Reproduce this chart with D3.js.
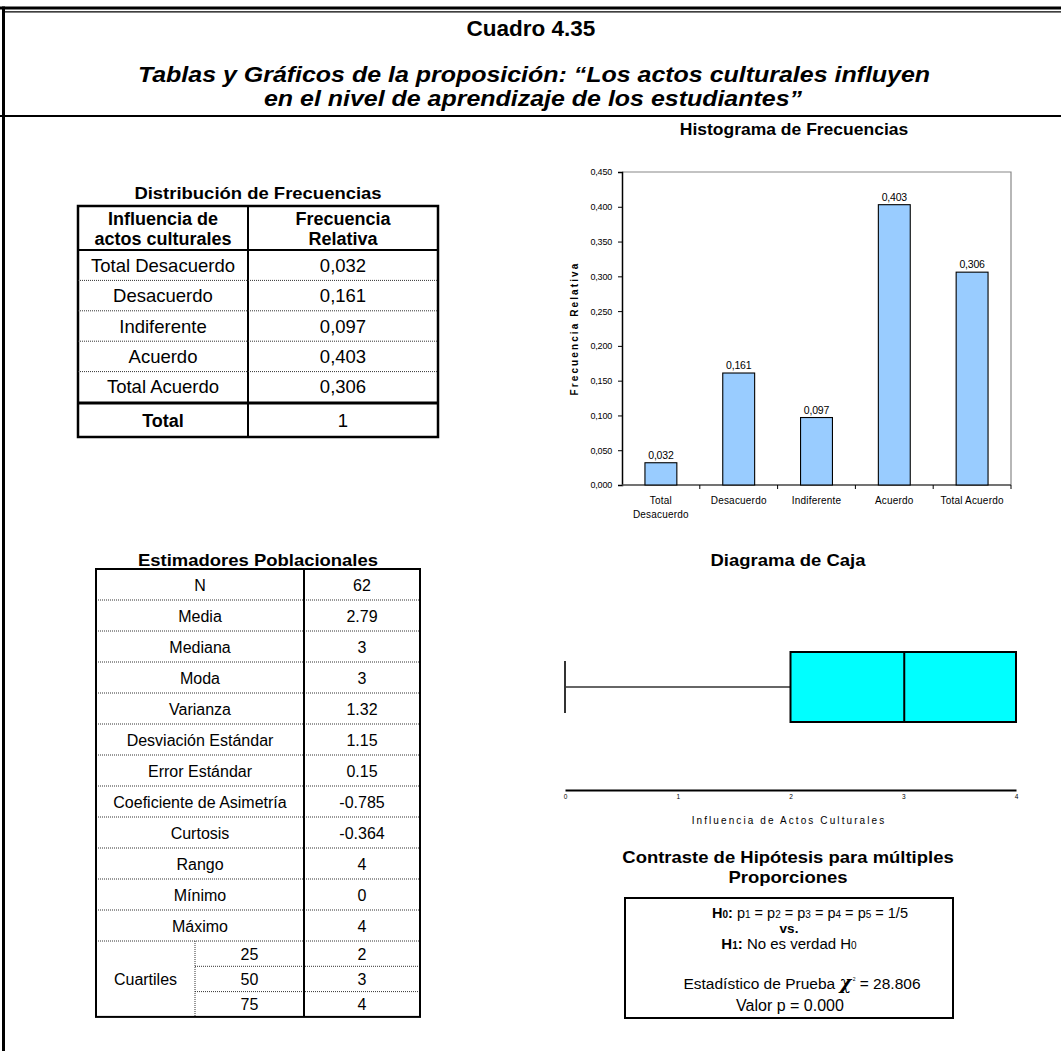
<!DOCTYPE html>
<html>
<head>
<meta charset="utf-8">
<script src="https://cdn.jsdelivr.net/npm/d3@7/dist/d3.min.js"></script>
<style>
  html, body { margin: 0; padding: 0; background: #fff; }
  svg { display: block; }
  text { font-family: "Liberation Sans", Arial, sans-serif; fill: #000; }
</style>
</head>
<body>
<svg id="sheet" width="1061" height="1051"></svg>
<script>
// ---- Data ----
const categories = ["Total Desacuerdo", "Desacuerdo", "Indiferente", "Acuerdo", "Total Acuerdo"];
const relFreq = [0.032, 0.161, 0.097, 0.403, 0.306];
const freqTotal = "1";
const yTickValues = [0, 0.05, 0.10, 0.15, 0.20, 0.25, 0.30, 0.35, 0.40, 0.45];

const estimatorNames = ["N", "Media", "Mediana", "Moda", "Varianza", "Desviación Estándar",
  "Error Estándar", "Coeficiente de Asimetría", "Curtosis", "Rango", "Mínimo", "Máximo"];
const estimatorValues = ["62", "2.79", "3", "3", "1.32", "1.15", "0.15", "-0.785", "-0.364", "4", "0", "4"];
const quartileLevels = ["25", "50", "75"];
const quartileValues = ["2", "3", "4"];

// five-number summary for the box plot
const boxMin = 0, boxQ1 = 2, boxMedian = 3, boxQ3 = 4, boxMax = 4;
const boxTicks = [0, 1, 2, 3, 4];

const commaFmt = v => d3.format(".3f")(v).replace(".", ",");

const svg = d3.select("#sheet");

// centred bold heading, slightly widened
function heading(parent, x, y, str, size, sx, italic) {
  return parent.append("text")
    .attr("transform", `translate(${x},${y}) scale(${sx},1)`)
    .attr("text-anchor", "middle").attr("font-size", size).attr("font-weight", "bold")
    .attr("font-style", italic ? "italic" : "normal").text(str);
}

// ---- Page frame and headings ----
svg.append("line").attr("x1", 0).attr("x2", 1061).attr("y1", 8).attr("y2", 8)
  .attr("stroke", "#000").attr("stroke-width", 3);
svg.append("line").attr("x1", 4).attr("x2", 1061).attr("y1", 11.8).attr("y2", 11.8)
  .attr("stroke", "#000").attr("stroke-width", 1.3);
svg.append("line").attr("x1", 0).attr("x2", 1061).attr("y1", 116).attr("y2", 116)
  .attr("stroke", "#000").attr("stroke-width", 2);
svg.append("line").attr("x1", 3.5).attr("x2", 3.5).attr("y1", 6.5).attr("y2", 1051)
  .attr("stroke", "#000").attr("stroke-width", 3);

svg.append("text").attr("x", 531).attr("y", 36).attr("text-anchor", "middle")
  .attr("font-size", 22.5).attr("font-weight", "bold").text("Cuadro 4.35");
heading(svg, 534, 82, "Tablas y Gráficos de la proposición: “Los actos culturales influyen", 22, 1.135, true);
heading(svg, 533, 106, "en el nivel de aprendizaje de los estudiantes”", 22, 1.135, true);

// ---- Frequency distribution table ----
const ft = { x0: 78, x1: 438, xm: 248, top: 206, head: 250, rowH: 30.4, totTop: 403, bottom: 437 };
const fg = svg.append("g");
heading(fg, 258, 199, "Distribución de Frecuencias", 16.5, 1.12);
fg.append("rect").attr("x", ft.x0).attr("y", ft.top).attr("width", ft.x1 - ft.x0)
  .attr("height", ft.bottom - ft.top).attr("fill", "none").attr("stroke", "#000").attr("stroke-width", 2.5);
fg.append("line").attr("x1", ft.xm).attr("x2", ft.xm).attr("y1", ft.top).attr("y2", ft.bottom)
  .attr("stroke", "#000").attr("stroke-width", 2);
fg.append("line").attr("x1", ft.x0).attr("x2", ft.x1).attr("y1", ft.head).attr("y2", ft.head)
  .attr("stroke", "#000").attr("stroke-width", 2);
fg.append("line").attr("x1", ft.x0).attr("x2", ft.x1).attr("y1", ft.totTop).attr("y2", ft.totTop)
  .attr("stroke", "#000").attr("stroke-width", 3);

const hdr = [["Influencia de", "actos culturales"], ["Frecuencia", "Relativa"]];
[(ft.x0 + ft.xm) / 2, (ft.xm + ft.x1) / 2].forEach((cx, i) => {
  const t = fg.append("text").attr("text-anchor", "middle").attr("font-size", 18).attr("font-weight", "bold");
  t.append("tspan").attr("x", cx).attr("y", 225).text(hdr[i][0]);
  t.append("tspan").attr("x", cx).attr("y", 245).text(hdr[i][1]);
});

categories.forEach((c, i) => {
  const y0 = ft.head + i * ft.rowH;
  if (i > 0) {
    fg.append("line").attr("x1", ft.x0).attr("x2", ft.x1).attr("y1", y0).attr("y2", y0)
      .attr("stroke", "#333").attr("stroke-width", 1).attr("stroke-dasharray", "1,1");
  }
  fg.append("text").attr("x", (ft.x0 + ft.xm) / 2).attr("y", y0 + ft.rowH / 2 + 6.5)
    .attr("text-anchor", "middle").attr("font-size", 18.5).text(c);
  fg.append("text").attr("x", (ft.xm + ft.x1) / 2).attr("y", y0 + ft.rowH / 2 + 6.5)
    .attr("text-anchor", "middle").attr("font-size", 18.5).text(commaFmt(relFreq[i]));
});
fg.append("text").attr("x", (ft.x0 + ft.xm) / 2).attr("y", (ft.totTop + ft.bottom) / 2 + 6.5)
  .attr("text-anchor", "middle").attr("font-size", 18).attr("font-weight", "bold").text("Total");
fg.append("text").attr("x", (ft.xm + ft.x1) / 2).attr("y", (ft.totTop + ft.bottom) / 2 + 6.5)
  .attr("text-anchor", "middle").attr("font-size", 18.5).text(freqTotal);

// ---- Histogram ----
const hx = d3.scaleBand().domain(categories).range([622, 1011]).padding(0);
const hy = d3.scaleLinear().domain([0, 0.45]).range([485, 172]);
const hg = svg.append("g");
heading(hg, 794, 135, "Histograma de Frecuencias", 16.5, 1.06);

// plot frame (top and right in grey)
hg.append("path").attr("d", `M${hx.range()[0]},${hy(0.45)}H${hx.range()[1]}V${hy(0)}`)
  .attr("fill", "none").attr("stroke", "#888").attr("stroke-width", 1.2);

const yAxis = hg.append("g").attr("transform", `translate(${hx.range()[0]},0)`)
  .call(d3.axisLeft(hy).tickValues(yTickValues).tickFormat(commaFmt).tickSize(4).tickPadding(6));
yAxis.select(".domain").attr("stroke", "#000").attr("stroke-width", 1.5);
yAxis.selectAll(".tick line").attr("stroke", "#000");
yAxis.selectAll(".tick text").attr("font-size", 9).attr("font-family", "Liberation Sans, Arial, sans-serif")
  .attr("letter-spacing", -0.2).attr("fill", "#222");

// baseline with category separators
hg.append("line").attr("x1", hx.range()[0]).attr("x2", hx.range()[1]).attr("y1", hy(0)).attr("y2", hy(0))
  .attr("stroke", "#444").attr("stroke-width", 1.5);
categories.forEach((c) => {
  const xs = hx(c) + hx.bandwidth();
  hg.append("line").attr("x1", xs).attr("x2", xs).attr("y1", hy(0)).attr("y2", hy(0) + 4)
    .attr("stroke", "#000");
});

const barW = hx.bandwidth() * 0.41;
hg.selectAll("rect.bar").data(categories).join("rect").attr("class", "bar")
  .attr("x", d => hx(d) + (hx.bandwidth() - barW) / 2)
  .attr("y", (d, i) => hy(relFreq[i]))
  .attr("width", barW)
  .attr("height", (d, i) => hy(0) - hy(relFreq[i]))
  .attr("fill", "#99ccff").attr("stroke", "#000").attr("stroke-width", 1.1);
hg.selectAll("text.val").data(categories).join("text").attr("class", "val")
  .attr("x", d => hx(d) + hx.bandwidth() / 2)
  .attr("y", (d, i) => hy(relFreq[i]) - 4)
  .attr("text-anchor", "middle").attr("font-size", 10.5).attr("letter-spacing", -0.2)
  .text((d, i) => commaFmt(relFreq[i]));

// category labels, wrapped to fit their band
hg.selectAll("text.cat").data(categories).join("text").attr("class", "cat")
  .attr("text-anchor", "middle").attr("font-size", 10).attr("letter-spacing", 0.2).attr("fill", "#222")
  .each(function (d) {
    const t = d3.select(this);
    const cx = hx(d) + hx.bandwidth() / 2;
    t.append("tspan").attr("x", cx).attr("y", 504).text(d);
    if (this.getComputedTextLength() > hx.bandwidth() * 0.9) {
      t.selectAll("tspan").remove();
      d.split(" ").forEach((w, k) => t.append("tspan").attr("x", cx).attr("y", 504 + k * 14).text(w));
    }
  });

hg.append("text").attr("transform", `translate(578,${(hy(0) + hy(0.45)) / 2}) rotate(-90)`)
  .attr("text-anchor", "middle").attr("font-size", 10).attr("font-weight", "bold")
  .attr("letter-spacing", 2.1).text("Frecuencia Relativa");

// ---- Population estimators table ----
const et = { x0: 96, x1: 420, xm: 304, xq: 195, top: 569, rowH: 31, subH: 25.3 };
const eg = svg.append("g");
heading(eg, 258, 566, "Estimadores Poblacionales", 16.5, 1.12);
const qTop = et.top + estimatorNames.length * et.rowH;
const eBottom = qTop + quartileLevels.length * et.subH;

estimatorNames.forEach((n, i) => {
  const y0 = et.top + i * et.rowH;
  if (i > 0) {
    eg.append("line").attr("x1", et.x0).attr("x2", et.x1).attr("y1", y0).attr("y2", y0)
      .attr("stroke", "#333").attr("stroke-dasharray", "1,1");
  }
  eg.append("text").attr("x", (et.x0 + et.xm) / 2).attr("y", y0 + et.rowH / 2 + 6)
    .attr("text-anchor", "middle").attr("font-size", 16).text(n);
  eg.append("text").attr("x", (et.xm + et.x1) / 2).attr("y", y0 + et.rowH / 2 + 6)
    .attr("text-anchor", "middle").attr("font-size", 16).text(estimatorValues[i]);
});
eg.append("line").attr("x1", et.x0).attr("x2", et.x1).attr("y1", qTop).attr("y2", qTop)
  .attr("stroke", "#333").attr("stroke-dasharray", "1,1");
quartileLevels.forEach((q, i) => {
  const y0 = qTop + i * et.subH;
  if (i > 0) {
    eg.append("line").attr("x1", et.xq).attr("x2", et.x1).attr("y1", y0).attr("y2", y0)
      .attr("stroke", "#333").attr("stroke-dasharray", "1,1");
  }
  eg.append("text").attr("x", (et.xq + et.xm) / 2).attr("y", y0 + et.subH / 2 + 6)
    .attr("text-anchor", "middle").attr("font-size", 16).text(q);
  eg.append("text").attr("x", (et.xm + et.x1) / 2).attr("y", y0 + et.subH / 2 + 6)
    .attr("text-anchor", "middle").attr("font-size", 16).text(quartileValues[i]);
});
eg.append("text").attr("x", (et.x0 + et.xq) / 2).attr("y", (qTop + eBottom) / 2 + 6)
  .attr("text-anchor", "middle").attr("font-size", 16).text("Cuartiles");
eg.append("line").attr("x1", et.xq).attr("x2", et.xq).attr("y1", qTop).attr("y2", eBottom)
  .attr("stroke", "#333").attr("stroke-dasharray", "1,1");
eg.append("line").attr("x1", et.xm).attr("x2", et.xm).attr("y1", et.top).attr("y2", eBottom)
  .attr("stroke", "#000").attr("stroke-width", 2);
eg.append("rect").attr("x", et.x0).attr("y", et.top).attr("width", et.x1 - et.x0)
  .attr("height", eBottom - et.top).attr("fill", "none").attr("stroke", "#000").attr("stroke-width", 2);

// ---- Box plot ----
const bx = d3.scaleLinear().domain([0, 4]).range([565, 1016]);
const bg = svg.append("g");
heading(bg, 788, 566, "Diagrama de Caja", 16.5, 1.12);
const boxTop = 652, boxBot = 722, boxMid = (boxTop + boxBot) / 2;
bg.append("line").attr("x1", bx(boxMin)).attr("x2", bx(boxQ1)).attr("y1", boxMid).attr("y2", boxMid)
  .attr("stroke", "#333").attr("stroke-width", 1.6);
bg.append("line").attr("x1", bx(boxMin)).attr("x2", bx(boxMin)).attr("y1", boxMid - 26).attr("y2", boxMid + 26)
  .attr("stroke", "#333").attr("stroke-width", 2);
bg.append("line").attr("x1", bx(boxMax)).attr("x2", bx(boxMax)).attr("y1", boxMid).attr("y2", boxMid)
  .attr("stroke", "#333").attr("stroke-width", 1.6);
bg.append("rect").attr("x", bx(boxQ1)).attr("y", boxTop).attr("width", bx(boxQ3) - bx(boxQ1))
  .attr("height", boxBot - boxTop).attr("fill", "#00ffff").attr("stroke", "#000").attr("stroke-width", 2);
bg.append("line").attr("x1", bx(boxMedian) + 1).attr("x2", bx(boxMedian) + 1).attr("y1", boxTop).attr("y2", boxBot)
  .attr("stroke", "#000").attr("stroke-width", 2);

const bAxis = bg.append("g").attr("transform", "translate(0,790)")
  .call(d3.axisBottom(bx).tickValues(boxTicks).tickFormat(d3.format("d")).tickSize(0).tickPadding(4));
bAxis.select(".domain").attr("stroke", "#000").attr("stroke-width", 2);
bAxis.selectAll(".tick text").attr("font-size", 6.5).attr("fill", "#222");
bg.append("text").attr("x", 789).attr("y", 824).attr("text-anchor", "middle")
  .attr("font-size", 10).attr("letter-spacing", 2.1).attr("fill", "#222").text("Influencia de Actos Culturales");

// ---- Hypothesis test ----
const tg = svg.append("g");
heading(tg, 788, 863, "Contraste de Hipótesis para múltiples", 16.5, 1.12);
heading(tg, 788, 883, "Proporciones", 16.5, 1.12);
tg.append("rect").attr("x", 625).attr("y", 898).attr("width", 328).attr("height", 120)
  .attr("fill", "none").attr("stroke", "#000").attr("stroke-width", 2);

const h0 = tg.append("text").attr("x", 810).attr("y", 918).attr("text-anchor", "middle").attr("font-size", 14.5);
h0.append("tspan").attr("font-weight", "bold").text("H");
h0.append("tspan").attr("font-weight", "bold").attr("font-size", 10).text("0");
h0.append("tspan").attr("font-weight", "bold").text(": ");
[1, 2, 3, 4, 5].forEach((k, i) => {
  h0.append("tspan").text("p");
  h0.append("tspan").attr("font-size", 10).text(k);
  h0.append("tspan").text(i < 4 ? " = " : " = 1/5");
});
tg.append("text").attr("x", 789).attr("y", 933).attr("text-anchor", "middle").attr("font-size", 13.5)
  .attr("font-weight", "bold").text("vs.");
const h1 = tg.append("text").attr("x", 789).attr("y", 949).attr("text-anchor", "middle").attr("font-size", 15);
h1.append("tspan").attr("font-weight", "bold").text("H");
h1.append("tspan").attr("font-weight", "bold").attr("font-size", 10).text("1");
h1.append("tspan").attr("font-weight", "bold").text(":");
h1.append("tspan").text(" No es verdad H");
h1.append("tspan").attr("font-size", 10).text("0");
const st = tg.append("text").attr("x", 802).attr("y", 989).attr("text-anchor", "middle").attr("font-size", 15.5);
st.append("tspan").text("Estadístico de Prueba ");
st.append("tspan").attr("font-family", "DejaVu Serif, serif").attr("font-style", "italic")
  .attr("font-weight", "bold").attr("font-size", 18).text("χ");
st.append("tspan").attr("font-size", 5).attr("dy", -8).text(" 2");
st.append("tspan").attr("dy", 8).text("  = 28.806");
tg.append("text").attr("x", 790).attr("y", 1011).attr("text-anchor", "middle").attr("font-size", 16)
  .text("Valor p = 0.000");
</script>
</body>
</html>
